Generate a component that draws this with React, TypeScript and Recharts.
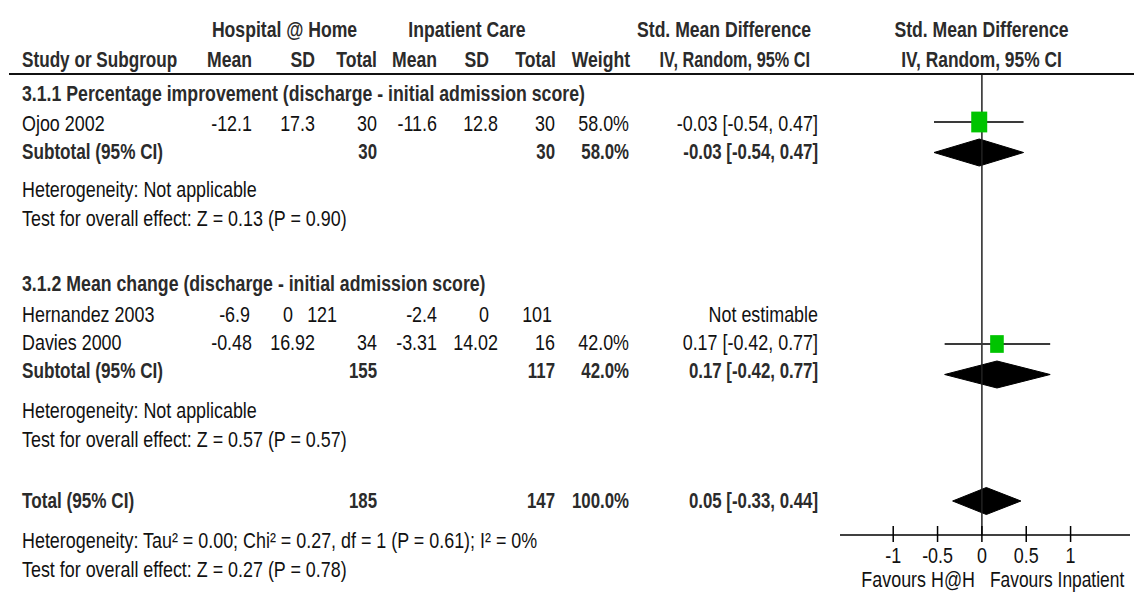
import React from 'react';
import { ComposedChart, XAxis, YAxis, Scatter, ErrorBar, ReferenceLine, ReferenceArea } from 'recharts';

// ---------- data ----------
const studyNames = ['Ojoo 2002', 'Hernandez 2003', 'Davies 2000'];
const hahMean = ['-12.1', '-6.9', '-0.48'];
const hahSD = ['17.3', '0', '16.92'];
const hahTotal = [30, 121, 34];
const ipMean = ['-11.6', '-2.4', '-3.31'];
const ipSD = ['12.8', '0', '14.02'];
const ipTotal = [30, 101, 16];
const studyWeight: (number | null)[] = [58.0, null, 42.0];
const studySmd: (number | null)[] = [-0.03, null, 0.17];
const studyLow: (number | null)[] = [-0.54, null, -0.42];
const studyHigh: (number | null)[] = [0.47, null, 0.77];

const pooledNames = ['Subtotal 3.1.1', 'Subtotal 3.1.2', 'Total'];
const pooledHah = [30, 155, 185];
const pooledIp = [30, 117, 147];
const pooledWeight = [58.0, 42.0, 100.0];
const pooledSmd = [-0.03, 0.17, 0.05];
const pooledLow = [-0.54, -0.42, -0.33];
const pooledHigh = [0.47, 0.77, 0.44];

const groupTitles = [
  '3.1.1 Percentage improvement (discharge - initial admission score)',
  '3.1.2 Mean change (discharge - initial admission score)',
];
const heterogeneity = ['Heterogeneity: Not applicable', 'Heterogeneity: Not applicable',
  'Heterogeneity: Tau\u00B2 = 0.00; Chi\u00B2 = 0.27, df = 1 (P = 0.61); I\u00B2 = 0%'];
const overallEffect = ['Test for overall effect: Z = 0.13 (P = 0.90)',
  'Test for overall effect: Z = 0.57 (P = 0.57)',
  'Test for overall effect: Z = 0.27 (P = 0.78)'];

const xTicks = [-1, -0.5, 0, 0.5, 1];
const xTickLabels = ['-1', '-0.5', '0', '0.5', '1'];

// ---------- layout (positions, not data) ----------
const W = 1134;
const H = 592;
const PLOT_LEFT = 840;
const PLOT_RIGHT = 4;
const AXIS_Y = 535;
const HEADER_LINE_Y = 74;
const FS = 22;
const SX_R = 0.814;  // regular text condensing
const SX_B = 0.765;  // bold numeric text condensing
const SX_BL = 0.80;  // bold wordy text condensing
const FONT = '"Liberation Sans", Arial, sans-serif';

const ROW_MID: Record<string, number> = {
  'Ojoo 2002': 122,
  'Davies 2000': 344,
  'Subtotal 3.1.1': 152.5,
  'Subtotal 3.1.2': 374.5,
  'Total': 501,
};
const TEXT_BASE: Record<string, number> = {
  h1: 37, h2: 67,
  g0: 101, 'Ojoo 2002': 131, 'Subtotal 3.1.1': 159, het0: 197, eff0: 226,
  g1: 291, 'Hernandez 2003': 322, 'Davies 2000': 350, 'Subtotal 3.1.2': 378, het1: 418, eff1: 447,
  'Total': 508, het2: 548, eff2: 577,
};
const COL = { name: 22, hMean: 252, hSD: 315, hTot: 377, iMean: 437, iSD: 498, iTot: 555, wt: 629, ci: 818 };
const COL_HERN = { hMean: 250, hSD: 293, hTot: 337, iMean: 437, iSD: 489, iTot: 552 };
const DIAMOND_HALF = 13.5;
const SQUARE_K = 2.1;
const SQUARE_ASPECT = 1.3;

const fmt = (v: number) => v.toFixed(2);
const ciText = (m: number, l: number, h: number) => `${fmt(m)} [${fmt(l)}, ${fmt(h)}]`;

const studyData = studyNames
  .map((name, i) => ({ name, i }))
  .filter(({ i }) => studySmd[i] !== null)
  .map(({ name, i }) => ({
    name,
    x: studySmd[i] as number,
    y: ROW_MID[name],
    err: [(studySmd[i] as number) - (studyLow[i] as number), (studyHigh[i] as number) - (studySmd[i] as number)],
    w: studyWeight[i] as number,
  }));

const T = ({ x, y, a = 'start', b = false, sx, children }: any) => (
  <text
    transform={`translate(${x},${y}) scale(${sx ?? (b ? SX_B : SX_R)},1)`}
    textAnchor={a}
    fontWeight={b ? 700 : 400}
    fill={b ? '#2b2b2b' : '#111'}
  >
    {children}
  </text>
);

const Square = (props: any) => {
  const { cx, cy, payload } = props;
  const w = SQUARE_K * Math.sqrt(payload.w);
  const h = w * SQUARE_ASPECT;
  return <rect x={cx - w / 2} y={cy - h / 2} width={w} height={h} fill="#00C400" />;
};

const Empty = () => <g />;

const makeDiamond = (m: number, l: number, h: number) => (props: any) => {
  const { x, y, width, height } = props;
  const cx = x + (width * (m - l)) / (h - l);
  const pts = `${x},${y + height / 2} ${cx},${y} ${x + width},${y + height / 2} ${cx},${y + height}`;
  return <polygon points={pts} fill="#000" stroke="#000" strokeWidth={1} />;
};

const AxisTick = (props: any) => {
  const { x, payload, index } = props;
  return (
    <g>
      <line x1={x} x2={x} y1={AXIS_Y - 9} y2={AXIS_Y + 7} stroke="#000" strokeWidth={1.5} />
      <text
        transform={`translate(${x},${AXIS_Y + 28}) scale(${SX_R},1)`}
        textAnchor="middle"
        fill="#111"
        fontFamily={FONT}
        fontSize={FS}
      >
        {xTickLabels[xTicks.indexOf(payload.value)] ?? xTickLabels[index]}
      </text>
    </g>
  );
};

const StudyRow = ({ i }: { i: number }) => {
  const name = studyNames[i];
  const y = TEXT_BASE[name];
  const c = name === 'Hernandez 2003' ? { ...COL, ...COL_HERN } : COL;
  const est = studySmd[i] !== null;
  return (
    <g>
      <T x={COL.name} y={y}>{name}</T>
      <T x={c.hMean} y={y} a="end">{hahMean[i]}</T>
      <T x={c.hSD} y={y} a="end">{hahSD[i]}</T>
      <T x={c.hTot} y={y} a="end">{hahTotal[i]}</T>
      <T x={c.iMean} y={y} a="end">{ipMean[i]}</T>
      <T x={c.iSD} y={y} a="end">{ipSD[i]}</T>
      <T x={c.iTot} y={y} a="end">{ipTotal[i]}</T>
      {est && <T x={COL.wt} y={y} a="end">{`${(studyWeight[i] as number).toFixed(1)}%`}</T>}
      <T x={COL.ci} y={y} a="end">
        {est ? ciText(studySmd[i] as number, studyLow[i] as number, studyHigh[i] as number) : 'Not estimable'}
      </T>
    </g>
  );
};

const PooledRow = ({ i }: { i: number }) => {
  const key = pooledNames[i];
  const y = TEXT_BASE[key];
  const label = key === 'Total' ? 'Total (95% CI)' : 'Subtotal (95% CI)';
  return (
    <g>
      <T x={COL.name} y={y} b sx={0.78}>{label}</T>
      <T x={COL.hTot} y={y} a="end" b>{pooledHah[i]}</T>
      <T x={COL.iTot} y={y} a="end" b>{pooledIp[i]}</T>
      <T x={COL.wt} y={y} a="end" b>{`${pooledWeight[i].toFixed(1)}%`}</T>
      <T x={COL.ci} y={y} a="end" b>{ciText(pooledSmd[i], pooledLow[i], pooledHigh[i])}</T>
    </g>
  );
};

const Table = () => (
  <svg width={W} height={H} style={{ position: 'absolute', left: 0, top: 0, pointerEvents: 'none' }}
    fontFamily={FONT} fontSize={FS}>
    <T x={284.5} y={TEXT_BASE.h1} a="middle" b sx={SX_BL}>Hospital @ Home</T>
    <T x={467} y={TEXT_BASE.h1} a="middle" b sx={SX_BL}>Inpatient Care</T>
    <T x={811} y={TEXT_BASE.h1} a="end" b sx={SX_BL}>Std. Mean Difference</T>
    <T x={981.5} y={TEXT_BASE.h1} a="middle" b sx={SX_BL}>Std. Mean Difference</T>
    <T x={COL.name} y={TEXT_BASE.h2} b sx={0.78}>Study or Subgroup</T>
    <T x={252} y={TEXT_BASE.h2} a="end" b sx={SX_BL}>Mean</T>
    <T x={315} y={TEXT_BASE.h2} a="end" b sx={SX_BL}>SD</T>
    <T x={377} y={TEXT_BASE.h2} a="end" b sx={SX_BL}>Total</T>
    <T x={437} y={TEXT_BASE.h2} a="end" b sx={SX_BL}>Mean</T>
    <T x={489} y={TEXT_BASE.h2} a="end" b sx={SX_BL}>SD</T>
    <T x={556} y={TEXT_BASE.h2} a="end" b sx={SX_BL}>Total</T>
    <T x={630} y={TEXT_BASE.h2} a="end" b sx={SX_BL}>Weight</T>
    <T x={810} y={TEXT_BASE.h2} a="end" b sx={0.74}>IV, Random, 95% CI</T>
    <T x={981.5} y={TEXT_BASE.h2} a="middle" b sx={0.79}>IV, Random, 95% CI</T>
    <line x1={9} x2={W} y1={HEADER_LINE_Y} y2={HEADER_LINE_Y} stroke="#111" strokeWidth={2} />

    <T x={COL.name} y={TEXT_BASE.g0} b sx={0.805}>{groupTitles[0]}</T>
    <StudyRow i={0} />
    <PooledRow i={0} />
    <T x={COL.name} y={TEXT_BASE.het0}>{heterogeneity[0]}</T>
    <T x={COL.name} y={TEXT_BASE.eff0}>{overallEffect[0]}</T>

    <T x={COL.name} y={TEXT_BASE.g1} b sx={0.805}>{groupTitles[1]}</T>
    <StudyRow i={1} />
    <StudyRow i={2} />
    <PooledRow i={1} />
    <T x={COL.name} y={TEXT_BASE.het1}>{heterogeneity[1]}</T>
    <T x={COL.name} y={TEXT_BASE.eff1}>{overallEffect[1]}</T>

    <PooledRow i={2} />
    <T x={COL.name} y={TEXT_BASE.het2}>{heterogeneity[2]}</T>
    <T x={COL.name} y={TEXT_BASE.eff2}>{overallEffect[2]}</T>

    <T x={975} y={587} a="end">Favours H@H</T>
    <T x={990} y={587} sx={0.79}>Favours Inpatient</T>
  </svg>
);

export default function App() {
  return (
    <div style={{ position: 'absolute', left: 0, top: 0, width: W, height: H, background: '#fff', overflow: 'hidden' }}>
      <ComposedChart
        width={W}
        height={H}
        margin={{ top: 0, right: PLOT_RIGHT, bottom: 0, left: PLOT_LEFT }}
        data={studyData}
      >
        <XAxis
          type="number"
          dataKey="x"
          domain={[-1.6, 1.67]}
          ticks={xTicks}
          interval={0}
          allowDataOverflow
          height={H - AXIS_Y}
          axisLine={{ stroke: '#000', strokeWidth: 1.5 }}
          tickLine={false}
          tickSize={0}
          tickMargin={0}
          tick={<AxisTick />}
        />
        <YAxis type="number" dataKey="y" domain={[0, AXIS_Y]} reversed hide allowDataOverflow />
        <ReferenceLine
          segment={[{ x: 0, y: HEADER_LINE_Y }, { x: 0, y: AXIS_Y }]}
          stroke="#222"
          strokeWidth={1.5}
        />
        {pooledNames.map((n, i) => (
          <ReferenceArea
            key={n}
            x1={pooledLow[i]}
            x2={pooledHigh[i]}
            y1={ROW_MID[n] - DIAMOND_HALF}
            y2={ROW_MID[n] + DIAMOND_HALF}
            shape={makeDiamond(pooledSmd[i], pooledLow[i], pooledHigh[i])}
          />
        ))}
        <Scatter data={studyData} dataKey="y" shape={<Empty />} isAnimationActive={false}>
          <ErrorBar dataKey="err" direction="x" width={0} stroke="#3a3a3a" strokeWidth={2} />
        </Scatter>
        <Scatter data={studyData} dataKey="y" shape={<Square />} isAnimationActive={false} />
      </ComposedChart>
      <Table />
    </div>
  );
}
